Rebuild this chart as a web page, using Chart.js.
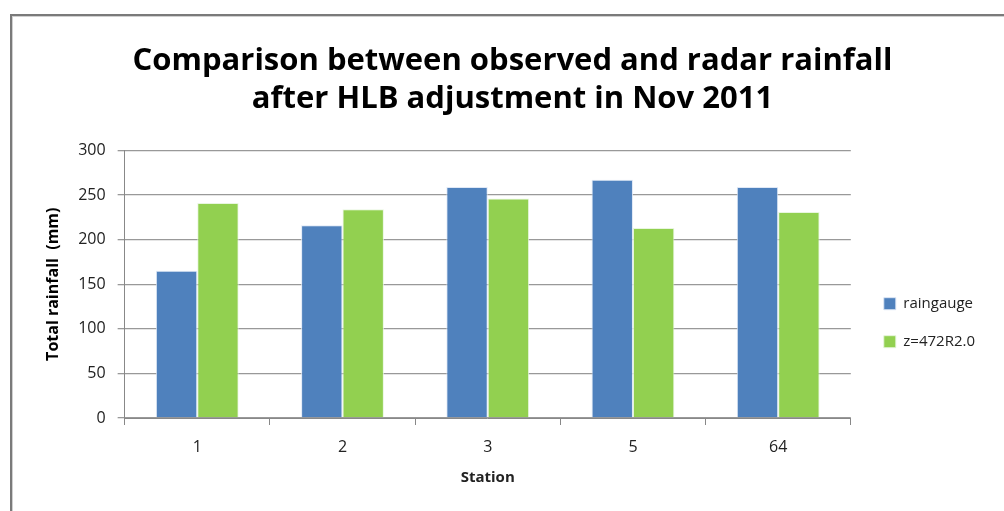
<!DOCTYPE html>
<html>
<head>
<meta charset="utf-8">
<script src="https://cdn.jsdelivr.net/npm/chart.js@4"></script>
<style>
  html, body { margin: 0; padding: 0; background: #fff; }
  #frame { position: absolute; left: 10px; top: 14px; width: 1000px; height: 510px;
           border-left: 2px solid #7a7a7a; border-top: 2px solid #7a7a7a;
           box-shadow: inset 1px 1px 0 #d0d0d0; }
  #wrap { position: absolute; left: 0; top: 0; width: 1004px; height: 511px; }
</style>
</head>
<body>
<div id="frame"></div>
<div id="wrap"><canvas id="mycanvas"></canvas></div>
<script>
var stations = ['1', '2', '3', '5', '64'];
var raingauge = [165, 216, 259, 267, 259];
var radar = [241, 234, 246, 213, 231];
var titleLines = ['Comparison between observed and radar rainfall', 'after HLB adjustment in Nov 2011'];

var font = "'Open Sans', 'DejaVu Sans', sans-serif";

var chartdata = {
	labels: stations,
	datasets: [
		{
			label: 'raingauge',
			backgroundColor: '#4F81BD',
			borderColor: 'rgba(220,230,245,0.9)',
			borderWidth: 1,
			data: raingauge
		},
		{
			label: 'z=472R2.0',
			backgroundColor: '#92D050',
			borderColor: 'rgba(230,245,220,0.9)',
			borderWidth: 1,
			data: radar
		}
	]
};

var ctx = document.getElementById('mycanvas');

var barGraph = new Chart(ctx, {
	type: 'bar',
	data: chartdata,
	options: {
		responsive: true,
		maintainAspectRatio: false,
		animation: false,
		layout: { padding: { left: 40, right: 19, top: 43, bottom: 20 } },
		datasets: { bar: { categoryPercentage: 0.57, barPercentage: 1.0 } },
		plugins: {
			title: {
				display: true,
				text: titleLines,
				color: '#000',
				font: { family: font, size: 31, weight: 'bold' },
				padding: { top: 0, bottom: 33 },
				lineHeight: 1.45
			},
			legend: {
				position: 'right',
				title: { display: true, text: ' ', font: { size: 12 }, padding: { top: 0, bottom: 97 } },
				labels: {
					boxWidth: 12,
					boxHeight: 12,
					padding: 23,
					color: '#222',
					font: { family: font, size: 15 }
				}
			},
			tooltip: { enabled: false }
		},
		scales: {
			x: {
				grid: { display: true, drawOnChartArea: false, offset: true, tickLength: 7, color: '#888' },
				border: { color: '#888', width: 1 },
				ticks: { color: '#222', font: { family: font, size: 16, lineHeight: 1.0 }, padding: 14 },
				title: { display: true, text: 'Station', color: '#222', font: { family: font, size: 15, weight: 'bold' }, padding: { top: 0 } }
			},
			y: {
				min: 0,
				max: 300,
				ticks: { stepSize: 50, color: '#222', font: { family: font, size: 16 }, padding: 12 },
				grid: { color: '#999', lineWidth: 1.3, tickLength: 7 },
				border: { color: '#888', width: 1 },
				title: { display: true, text: 'Total rainfall  (mm)', color: '#000', font: { family: font, size: 16, weight: 'bold' }, padding: { bottom: 3 } }
			},
			gap: {
				position: 'right',
				display: true,
				grid: { display: false },
				border: { display: false },
				ticks: { display: false },
				afterFit: function(scale) { scale.width = 10; }
			}
		}
	}
});
</script>
</body>
</html>
